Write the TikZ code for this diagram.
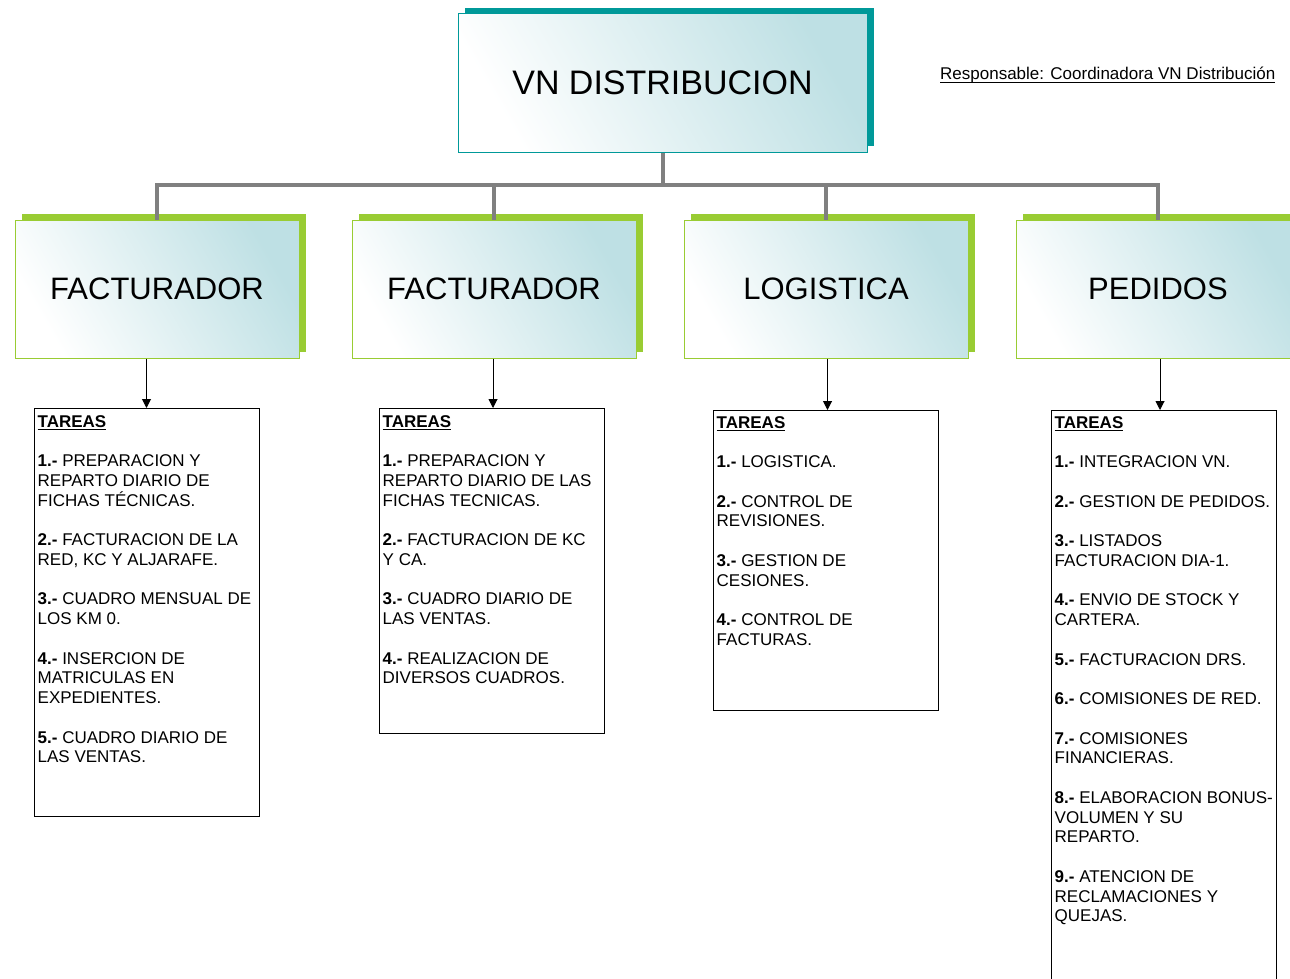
\documentclass[tikz,border=0pt]{standalone}
\usepackage{fontspec}
\setmainfont{Liberation Sans}
\usetikzlibrary{positioning,shadows,arrows.meta}
\definecolor{vnteal}{RGB}{0,153,153}
\definecolor{vngreen}{RGB}{153,204,51}
\definecolor{vnlight}{RGB}{190,224,228}
\definecolor{vngray}{RGB}{128,128,128}
\newcommand{\tnum}[1]{\textbf{#1.-}}
\newcommand{\gap}{\\[19.75pt]}
\newcommand{\ulin}[1]{\setbox0\hbox{#1}\rlap{\vrule width\wd0 height -1.6pt depth 2.8pt}\box0}
\tikzset{
	headbox/.style={draw=vnteal, line width=1pt, left color=white, right color=vnlight, shading angle=120,
		minimum width=409pt, minimum height=138pt, inner sep=0pt,
		drop shadow={shadow xshift=7pt, shadow yshift=6pt, fill=vnteal, opacity=1},
		font=\fontsize{34}{40}\selectfont},
	rolebox/.style={draw=vngreen, line width=1pt, left color=white, right color=vnlight, shading angle=120,
		minimum width=284pt, minimum height=138pt, inner sep=0pt,
		drop shadow={shadow xshift=7pt, shadow yshift=6pt, fill=vngreen, opacity=1},
		font=\fontsize{31}{36}\selectfont},
	taskbox/.style={draw, line width=1pt, minimum width=225pt, inner sep=0pt},
	tasktext/.style={anchor=north west, align=left, inner sep=0pt, font=\fontsize{17}{19.75}\selectfont},
	bus/.style={draw=vngray, line width=4pt},
	down/.style={-{Triangle[length=9pt,width=9pt]}, line width=1pt}
}
\begin{document}
\begin{tikzpicture}[x=1pt,y=-1pt]
	\useasboundingbox (0,0) rectangle (1290,979);
	\clip (0,0) rectangle (1290,979);
	% head
		\node[headbox] (top) at (662.5,83) {VN DISTRIBUCION};
		\node[anchor=base west, inner sep=0pt, font=\fontsize{17}{20}\selectfont] (resp) at (940,80)
			{\ulin{Responsable: Coordinadora VN Distribución}};
	% roles
		\foreach \name/\x/\lbl in {fac1/157/FACTURADOR,fac2/494/FACTURADOR,logi/826/LOGISTICA,pedi/1158/PEDIDOS}{
			\node[rolebox] (\name) at (\x,289) {\lbl};
			}
	% bus
		\coordinate (bus) at (662.5,185);
		\draw[bus] (top.south) -- (top.south |- bus);
		\draw[bus] (fac1.north) |- (bus) -| (pedi.north);
		\foreach \name in {fac2,logi}{
			\draw[bus] (\name.north) -- (\name.north |- bus);
			}
	% task boxes
		\node[taskbox, minimum height=408pt, anchor=north] (t1) at (146.5,408) {};
		\node[taskbox, minimum height=325pt, anchor=north] (t2) at (491.5,408) {};
		\node[taskbox, minimum height=300pt, anchor=north] (t3) at (825.5,410) {};
		\node[taskbox, minimum height=600pt, anchor=north] (t4) at (1163.5,410) {};
		\foreach \from/\to/\dx in {fac1/t1/0,fac2/t2/1.5,logi/t3/2,pedi/t4/-3.5}{
			\draw[down] ([xshift=\dx pt]\to.north |- \from.south) -- ([xshift=\dx pt]\to.north);
			}
	% task texts
		\node[tasktext] (x1) at ([shift={(4pt,-7pt)}]t1.north west) {%
			\ulin{\textbf{TAREAS}}\gap
			\tnum{1} PREPARACION Y\\
			REPARTO DIARIO DE\\
			FICHAS TÉCNICAS.\gap
			\tnum{2} FACTURACION DE LA\\
			RED, KC Y ALJARAFE.\gap
			\tnum{3} CUADRO MENSUAL DE\\
			LOS KM 0.\gap
			\tnum{4} INSERCION DE\\
			MATRICULAS EN\\
			EXPEDIENTES.\gap
			\tnum{5} CUADRO DIARIO DE\\
			LAS VENTAS.};
		\node[tasktext] (x2) at ([shift={(4pt,-7pt)}]t2.north west) {%
			\ulin{\textbf{TAREAS}}\gap
			\tnum{1} PREPARACION Y\\
			REPARTO DIARIO DE LAS\\
			FICHAS TECNICAS.\gap
			\tnum{2} FACTURACION DE KC\\
			Y CA.\gap
			\tnum{3} CUADRO DIARIO DE\\
			LAS VENTAS.\gap
			\tnum{4} REALIZACION DE\\
			DIVERSOS CUADROS.};
		\node[tasktext] (x3) at ([shift={(4pt,-6pt)}]t3.north west) {%
			\ulin{\textbf{TAREAS}}\gap
			\tnum{1} LOGISTICA.\gap
			\tnum{2} CONTROL DE\\
			REVISIONES.\gap
			\tnum{3} GESTION DE\\
			CESIONES.\gap
			\tnum{4} CONTROL DE\\
			FACTURAS.};
		\node[tasktext] (x4) at ([shift={(4pt,-6pt)}]t4.north west) {%
			\ulin{\textbf{TAREAS}}\gap
			\tnum{1} INTEGRACION VN.\gap
			\tnum{2} GESTION DE PEDIDOS.\gap
			\tnum{3} LISTADOS\\
			FACTURACION DIA-1.\gap
			\tnum{4} ENVIO DE STOCK Y\\
			CARTERA.\gap
			\tnum{5} FACTURACION DRS.\gap
			\tnum{6} COMISIONES DE RED.\gap
			\tnum{7} COMISIONES\\
			FINANCIERAS.\gap
			\tnum{8} ELABORACION BONUS-\\
			VOLUMEN Y SU\\
			REPARTO.\gap
			\tnum{9} ATENCION DE\\
			RECLAMACIONES Y\\
			QUEJAS.};
\end{tikzpicture}
\end{document}
